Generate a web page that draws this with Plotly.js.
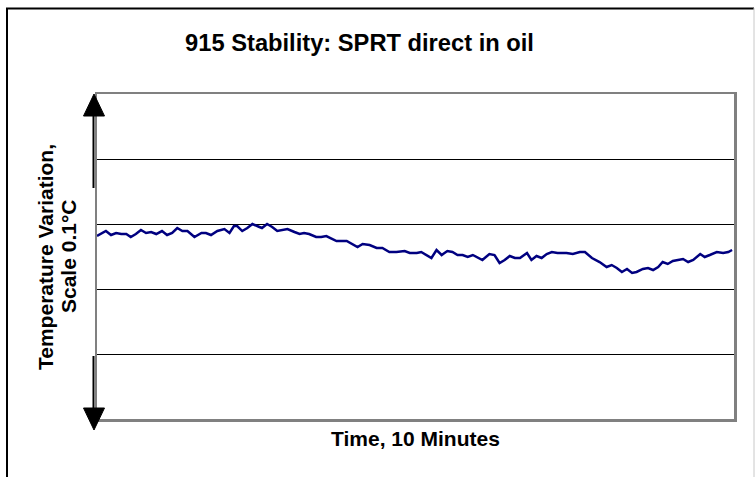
<!DOCTYPE html>
<html>
<head>
<meta charset="utf-8">
<script src="https://cdn.plot.ly/plotly-3.0.1.min.js"></script>
<style>
html,body{margin:0;padding:0;background:#fff;}
#chart{width:755px;height:477px;}
</style>
</head>
<body>
<div id="chart"></div>
<script>
// Time in minutes (sample positions) and temperature variation (grid units, 1 unit = 0.1 °C scale)
const timeMin = [0.00,0.14,0.22,0.30,0.38,0.46,0.53,0.61,0.69,0.77,0.85,0.93,1.02,1.10,1.18,1.26,1.34,1.42,1.53,1.64,1.71,1.79,1.89,2.00,2.08,2.15,2.20,2.28,2.36,2.44,2.55,2.59,2.67,2.75,2.83,2.91,2.99,3.10,3.18,3.25,3.33,3.44,3.52,3.60,3.76,3.92,4.09,4.17,4.28,4.39,4.48,4.59,4.70,4.83,4.91,5.02,5.09,5.25,5.33,5.41,5.50,5.58,5.66,5.74,5.82,5.90,5.97,6.05,6.16,6.24,6.32,6.40,6.48,6.56,6.64,6.75,6.82,6.90,6.98,7.06,7.14,7.23,7.37,7.47,7.58,7.66,7.77,7.89,8.00,8.08,8.16,8.24,8.32,8.40,8.47,8.57,8.65,8.73,8.81,8.88,8.96,9.04,9.12,9.20,9.28,9.36,9.47,9.54,9.62,9.73,9.83,9.91,9.97];
const tempVar = [2.815,2.892,2.831,2.862,2.846,2.846,2.800,2.846,2.908,2.862,2.877,2.846,2.892,2.831,2.862,2.938,2.892,2.892,2.800,2.862,2.862,2.831,2.892,2.923,2.862,2.969,2.969,2.892,2.938,3.000,2.954,2.938,3.000,2.954,2.892,2.908,2.923,2.877,2.846,2.862,2.846,2.800,2.800,2.815,2.738,2.738,2.646,2.692,2.677,2.631,2.631,2.569,2.569,2.585,2.554,2.554,2.569,2.477,2.600,2.523,2.585,2.569,2.523,2.523,2.492,2.523,2.492,2.446,2.538,2.523,2.400,2.446,2.508,2.477,2.477,2.554,2.446,2.508,2.477,2.538,2.569,2.554,2.554,2.538,2.569,2.569,2.477,2.415,2.338,2.369,2.323,2.262,2.308,2.246,2.262,2.308,2.323,2.292,2.338,2.415,2.385,2.431,2.446,2.462,2.415,2.446,2.538,2.492,2.523,2.569,2.554,2.569,2.600];
const gridTicks = [0,1,2,3,4,5];
const chartTitle = '915 Stability: SPRT direct in oil';
const xTitle = 'Time, 10 Minutes';
const yTitleLines = ['Temperature Variation,', 'Scale 0.1°C'];

const W = 755, H = 477;
const L = 97, R = 734, T = 94, B = 419;
const px = p => (p - L) / (R - L);
const py = p => (B - p) / (B - T);
const FONT = 'Arial, "Liberation Sans", sans-serif';
const AXF = {family:FONT, size:21, color:'#000', weight:'bold'};

const shapes = [
  // outer frame
  {type:'line', xref:'paper', yref:'paper', x0:px(6), x1:px(754), y0:py(8.5), y1:py(8.5), line:{color:'#000', width:2}},
  {type:'line', xref:'paper', yref:'paper', x0:px(7), x1:px(7), y0:py(8), y1:py(480), line:{color:'#000', width:2}},
  {type:'line', xref:'paper', yref:'paper', x0:px(754), x1:px(754), y0:py(8), y1:py(480), line:{color:'#c8c8c8', width:1}},
  // up arrow
  {type:'line', xref:'paper', yref:'paper', x0:px(93.5), x1:px(93.5), y0:py(188), y1:py(114), line:{color:'#000', width:2}},
  {type:'path', xref:'paper', yref:'paper', path:`M ${px(83.5)} ${py(116)} L ${px(104.5)} ${py(116)} L ${px(94)} ${py(94)} Z`, fillcolor:'#000', line:{color:'#000', width:1}},
  // down arrow
  {type:'line', xref:'paper', yref:'paper', x0:px(93.5), x1:px(93.5), y0:py(356), y1:py(410), line:{color:'#000', width:2}},
  {type:'path', xref:'paper', yref:'paper', path:`M ${px(83.5)} ${py(408)} L ${px(104.5)} ${py(408)} L ${px(94)} ${py(430)} Z`, fillcolor:'#000', line:{color:'#000', width:1}}
];

const annotations = [
  {xref:'paper', yref:'paper', x:px(45), y:py(257), text:yTitleLines[0], textangle:-90, showarrow:false, xanchor:'center', yanchor:'middle', font:AXF},
  {xref:'paper', yref:'paper', x:px(68), y:py(257), text:yTitleLines[1], textangle:-90, showarrow:false, xanchor:'center', yanchor:'middle', font:AXF},
  {xref:'paper', yref:'paper', x:px(415.5), y:py(438), text:xTitle, showarrow:false, xanchor:'center', yanchor:'middle', font:AXF}
];

const trace = {
  x: timeMin, y: tempVar, type:'scatter', mode:'lines',
  line:{color:'#000080', width:2.5}, hoverinfo:'skip'
};

const layout = {
  width:W, height:H,
  margin:{l:L, r:W-R, t:T, b:H-B, pad:0},
  paper_bgcolor:'#fff', plot_bgcolor:'#fff',
  showlegend:false,
  title:{text:'<b>'+chartTitle+'</b>', x:px(359.5), xref:'paper', xanchor:'center', y:1-43/H, yref:'container', yanchor:'middle', font:{family:FONT, size:23.7, color:'#000'}},
  xaxis:{range:[0,10], showgrid:false, zeroline:false, showticklabels:false, ticks:'', showline:true, mirror:true, linecolor:'#808080', linewidth:2.5, fixedrange:true},
  yaxis:{range:[0,5], tickvals:gridTicks, showgrid:true, gridcolor:'#000', gridwidth:1, zeroline:false, showticklabels:false, ticks:'', showline:true, mirror:true, linecolor:'#808080', linewidth:2.5, fixedrange:true},
  shapes:shapes,
  annotations:annotations
};

Plotly.newPlot('chart', [trace], layout, {displayModeBar:false, staticPlot:true});
</script>
</body>
</html>
